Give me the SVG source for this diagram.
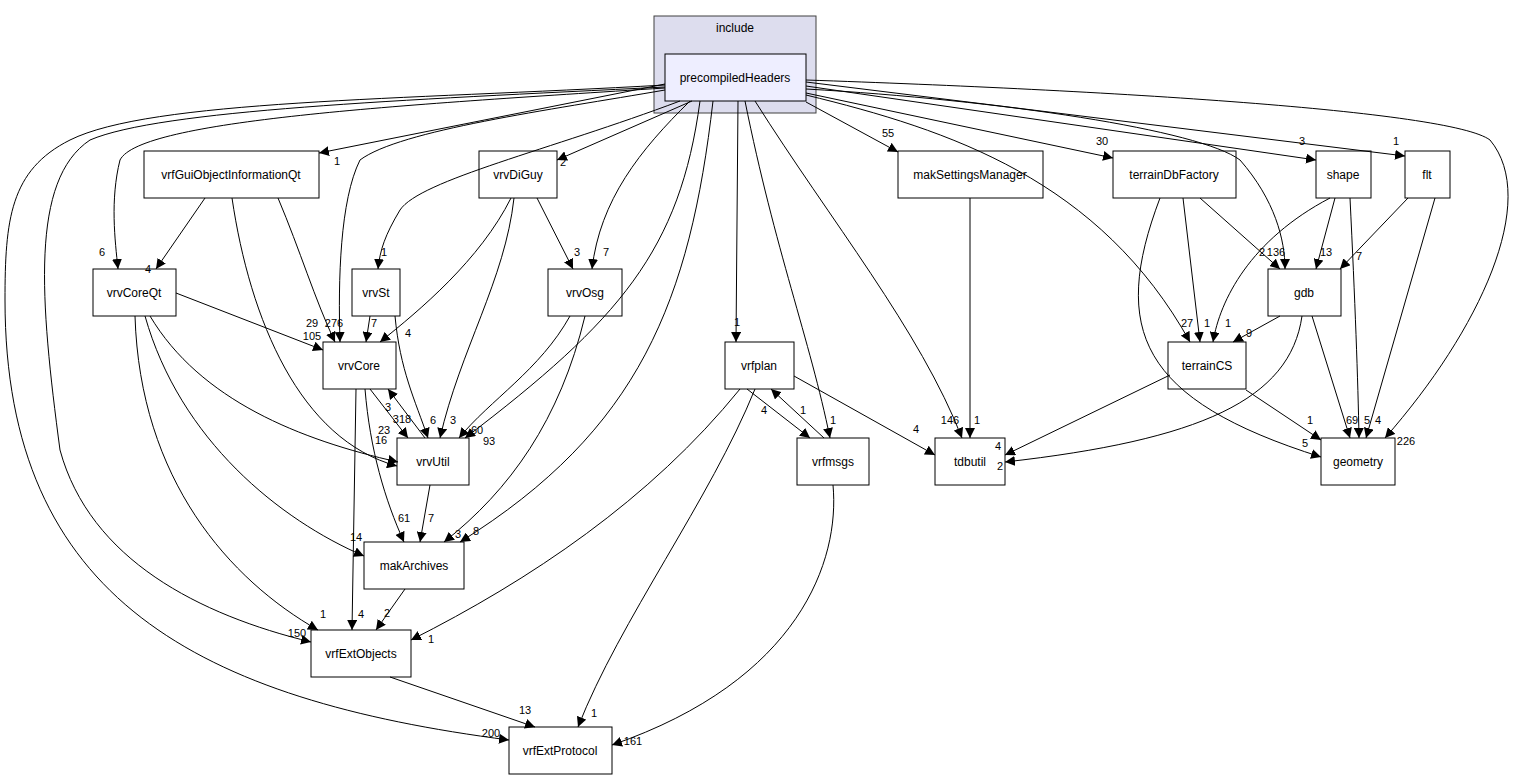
<svg xmlns="http://www.w3.org/2000/svg" width="1521" height="780" viewBox="0 0 1521 780">
<style>
.n rect{fill:#fff;stroke:#000;stroke-width:1}
text{font-family:"Liberation Sans",Arial,sans-serif;font-size:12px;fill:#000}
.n text{text-anchor:middle}
.e path{fill:none;stroke:#000;stroke-width:1;marker-end:url(#a)}
.e text{font-size:11px;text-anchor:middle}
</style>
<defs><marker id="a" markerUnits="userSpaceOnUse" markerWidth="11" markerHeight="10" refX="10" refY="5" orient="auto"><path d="M0,0 L10,5 L0,10 z" fill="#000"/></marker></defs>
<rect width="1521" height="780" fill="#fff"/>
<g id="cluster_include"><rect x="654" y="16" width="162" height="97" fill="#ddddee" stroke="#404040"/><text x="735" y="32" text-anchor="middle">include</text></g>
<g id="precompiledHeaders" class="n"><rect x="665" y="54" width="141" height="47" style="fill:#eeeeff"/><text x="735" y="82">precompiledHeaders</text></g>
<g id="vrfGuiObjectInformationQt" class="n"><rect x="144" y="151" width="175" height="47"/><text x="231" y="179">vrfGuiObjectInformationQt</text></g>
<g id="vrvDiGuy" class="n"><rect x="479" y="151" width="78" height="47"/><text x="518" y="179">vrvDiGuy</text></g>
<g id="makSettingsManager" class="n"><rect x="898" y="151" width="145" height="47"/><text x="970" y="179">makSettingsManager</text></g>
<g id="terrainDbFactory" class="n"><rect x="1113" y="151" width="123" height="47"/><text x="1174" y="179">terrainDbFactory</text></g>
<g id="shape" class="n"><rect x="1316" y="151" width="55" height="47"/><text x="1343" y="179">shape</text></g>
<g id="flt" class="n"><rect x="1405" y="151" width="45" height="47"/><text x="1427" y="179">flt</text></g>
<g id="vrvCoreQt" class="n"><rect x="93" y="269" width="83" height="47"/><text x="134" y="297">vrvCoreQt</text></g>
<g id="vrvSt" class="n"><rect x="352" y="269" width="48" height="47"/><text x="376" y="297">vrvSt</text></g>
<g id="vrvOsg" class="n"><rect x="548" y="269" width="74" height="47"/><text x="585" y="297">vrvOsg</text></g>
<g id="gdb" class="n"><rect x="1268" y="269" width="73" height="47"/><text x="1304" y="297">gdb</text></g>
<g id="vrvCore" class="n"><rect x="323" y="342" width="73" height="47"/><text x="359" y="370">vrvCore</text></g>
<g id="vrfplan" class="n"><rect x="725" y="342" width="69" height="47"/><text x="759" y="370">vrfplan</text></g>
<g id="terrainCS" class="n"><rect x="1168" y="342" width="78" height="47"/><text x="1207" y="370">terrainCS</text></g>
<g id="vrvUtil" class="n"><rect x="397" y="438" width="72" height="47"/><text x="433" y="466">vrvUtil</text></g>
<g id="vrfmsgs" class="n"><rect x="797" y="438" width="72" height="47"/><text x="833" y="466">vrfmsgs</text></g>
<g id="tdbutil" class="n"><rect x="935" y="438" width="70" height="47"/><text x="970" y="466">tdbutil</text></g>
<g id="geometry" class="n"><rect x="1321" y="438" width="74" height="47"/><text x="1358" y="466">geometry</text></g>
<g id="makArchives" class="n"><rect x="364" y="542" width="100" height="47"/><text x="414" y="570">makArchives</text></g>
<g id="vrfExtObjects" class="n"><rect x="311" y="630" width="100" height="47"/><text x="361" y="658">vrfExtObjects</text></g>
<g id="vrfExtProtocol" class="n"><rect x="509" y="727" width="103" height="47"/><text x="560" y="755">vrfExtProtocol</text></g>
<g id="edges" class="e">
<path d="M665,84 L319,153"/><text x="337" y="165">1</text>
<path d="M692,101 L557,160"/><text x="563" y="166">2</text>
<path d="M806,102 L898,152"/><text x="888" y="137">55</text>
<path d="M806,93 L1113,158"/><text x="1102" y="145">30</text>
<path d="M806,86 L1316,160"/><text x="1302" y="145">3</text>
<path d="M806,82 L1405,156"/><text x="1396" y="145">1</text>
<path d="M665,88 C400,105 140,120 120,160 C110,200 115,240 118,269"/><text x="102" y="256">6</text>
<path d="M665,90 C550,110 400,130 360,160 C340,200 338,280 340,342"/><text x="334" y="327">276</text>
<path d="M680,101 C550,150 420,180 400,210 C385,235 380,250 378,269"/><text x="384" y="256">1</text>
<path d="M690,101 C640,150 600,200 592,269"/><text x="606" y="256">7</text>
<path d="M700,101 C680,250 620,320 465,438"/><text x="489" y="445">93</text>
<path d="M713,101 C690,300 640,430 460,542"/><text x="476" y="535">8</text>
<path d="M738,101 L736,342"/><text x="737" y="326">1</text>
<path d="M745,101 C775,250 810,340 830,438"/><text x="833" y="424">1</text>
<path d="M755,101 C830,220 920,330 962,438"/><text x="950" y="424">146</text>
<path d="M806,95 C950,130 1100,180 1190,342"/><text x="1187" y="327">27</text>
<path d="M806,89 C1000,100 1200,130 1240,160 C1275,200 1285,240 1285,269"/><text x="1276" y="256">136</text>
<path d="M806,80 C1100,90 1450,110 1490,140 C1540,200 1480,330 1385,438"/><text x="1406" y="445">226</text>
<path d="M665,87 C400,100 160,110 90,140 C30,180 40,300 60,450 C90,560 200,615 311,642"/><text x="297" y="637">150</text>
<path d="M665,85 C400,100 150,100 70,140 C10,170 5,220 5,300 C5,600 200,700 509,740"/><text x="491" y="737">200</text>
<path d="M205,198 L156,269"/><text x="148" y="273">4</text>
<path d="M278,198 C300,250 315,300 335,342"/><text x="312" y="327">29</text>
<path d="M232,198 C250,320 300,440 397,466"/><text x="381" y="444">16</text>
<path d="M537,198 L573,269"/><text x="577" y="256">3</text>
<path d="M511,198 C480,260 420,310 380,342"/><text x="408" y="337">4</text>
<path d="M514,198 C505,280 460,350 440,438"/><text x="453" y="424">3</text>
<path d="M370,316 L366,342"/><text x="374" y="327">7</text>
<path d="M395,316 C400,370 415,400 428,438"/><text x="433" y="424">6</text>
<path d="M570,316 C540,370 490,400 459,438"/><text x="477" y="434">60</text>
<path d="M585,316 C560,420 510,490 444,542"/><text x="458" y="538">3</text>
<path d="M176,293 L323,350"/><text x="312" y="340">105</text>
<path d="M150,316 C200,400 300,440 398,462"/><text x="384" y="434">23</text>
<path d="M145,316 C180,440 280,520 364,556"/><text x="356" y="541">14</text>
<path d="M135,316 C140,480 230,580 318,630"/><text x="323" y="618">1</text>
<path d="M370,389 L408,438"/><text x="402" y="423">318</text>
<path d="M425,438 L388,389"/><text x="388" y="411">3</text>
<path d="M365,389 C370,450 385,500 404,542"/><text x="404" y="522">61</text>
<path d="M356,389 L352,630"/><text x="361" y="618">4</text>
<path d="M430,485 L420,542"/><text x="431" y="522">7</text>
<path d="M405,589 L376,630"/><text x="387" y="617">2</text>
<path d="M390,677 L535,727"/><text x="525" y="714">13</text>
<path d="M747,389 L810,438"/><text x="764" y="414">4</text>
<path d="M824,438 L771,389"/><text x="803" y="414">1</text>
<path d="M794,376 L935,455"/><text x="916" y="433">4</text>
<path d="M740,389 C650,500 530,580 411,640"/><text x="431" y="643">1</text>
<path d="M755,389 C710,500 620,620 578,727"/><text x="594" y="717">1</text>
<path d="M833,485 C840,560 800,680 612,745"/><text x="633" y="745">161</text>
<path d="M970,198 L970,438"/><text x="977" y="424">1</text>
<path d="M1200,198 L1280,269"/><text x="1262" y="256">2</text>
<path d="M1183,198 L1200,342"/><text x="1207" y="327">1</text>
<path d="M1160,198 C1110,330 1140,400 1321,457"/><text x="1305" y="447">5</text>
<path d="M1335,198 L1316,269"/><text x="1326" y="256">13</text>
<path d="M1330,198 C1250,240 1220,300 1213,342"/><text x="1228" y="327">1</text>
<path d="M1350,198 C1355,300 1358,380 1359,438"/><text x="1367" y="424">5</text>
<path d="M1408,198 L1340,269"/><text x="1359" y="260">7</text>
<path d="M1435,198 L1366,438"/><text x="1378" y="424">4</text>
<path d="M1280,316 L1233,342"/><text x="1249" y="337">9</text>
<path d="M1312,316 L1350,438"/><text x="1352" y="424">69</text>
<path d="M1302,316 C1290,400 1200,440 1005,462"/><text x="1000" y="470">2</text>
<path d="M1170,375 L1005,455"/><text x="998" y="450">4</text>
<path d="M1246,390 L1321,440"/><text x="1310" y="424">1</text>
</g>
</svg>
